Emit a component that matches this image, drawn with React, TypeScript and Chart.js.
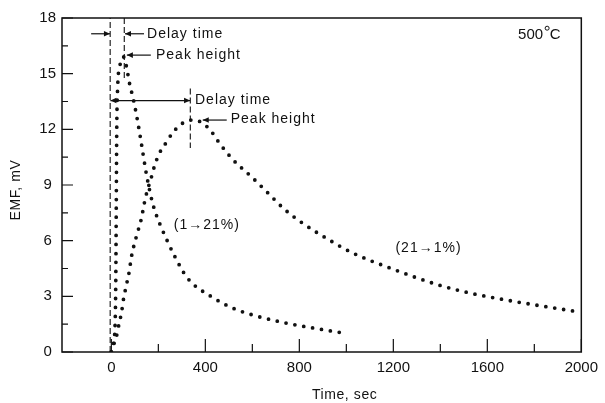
import React, { useEffect, useRef } from "react";
import { Chart, registerables } from "chart.js";

Chart.register(...registerables);

// ---- data ----
const curve1Time = [0, 10, 16, 19, 21, 23, 27, 36, 52, 64, 77, 94, 111, 127, 149, 174, 191, 213, 234, 268, 323, 430, 520, 600, 728, 855, 1000];
const curve1EMF = [0, 0.6, 1.5, 4, 8, 12, 14.3, 15.4, 15.9, 15.4, 14.5, 13.6, 12.5, 11.3, 9.6, 8.1, 7.4, 6.7, 6.1, 5.2, 4.0, 2.95, 2.35, 2.0, 1.6, 1.3, 1.0];

const curve2Time = [0, 10, 21, 34, 43, 51, 64, 77, 85, 106, 128, 140, 153, 170, 183, 204, 234, 260, 290, 320, 345, 380, 425, 446, 515, 600, 672, 736, 813, 919, 1025, 1170, 1396, 1536, 1681, 1821, 1970];
const curve2EMF = [0, 0.4, 0.8, 1.6, 2.1, 2.8, 3.6, 4.4, 5.1, 6.2, 7.2, 8.0, 8.7, 9.4, 10.0, 10.7, 11.3, 11.8, 12.2, 12.45, 12.5, 12.4, 11.9, 11.5, 10.4, 9.4, 8.5, 7.7, 6.95, 6.1, 5.35, 4.6, 3.6, 3.15, 2.8, 2.5, 2.2];

const xTicks = [0, 400, 800, 1200, 1600, 2000];
const xMinorTicks = [200, 600, 1000, 1400, 1800];
const yTicks = [0, 3, 6, 9, 12, 15, 18];
const yMinorTicks = [1.5, 4.5, 7.5, 10.5, 13.5, 16.5];

const xTitle = "Time, sec";
const yTitle = "EMF, mV";

// annotations (data coordinates)
const dashedLines = [
  { t: -5, from: 0, to: 18 },
  { t: 55, from: 18, to: 14.6 },
  { t: 336, from: 14.2, to: 11.0 },
];
const arrows = [
  { t1: -86, t2: -6, v: 17.15, both: false },
  { t1: 139, t2: 58, v: 17.15, both: false },
  { t1: 168, t2: 66, v: 16.0, both: false },
  { t1: -4, t2: 335, v: 13.55, both: true },
  { t1: 491, t2: 389, v: 12.5, both: false },
];
const textNotes = [
  { text: "Delay time", t: 152, v: 17.15 },
  { text: "Peak height", t: 190, v: 16.0 },
  { text: "Delay time", t: 356, v: 13.6 },
  { text: "Peak height", t: 508, v: 12.55 },
  { text: "(1→21%)", t: 266, v: 6.85 },
  { text: "(21→1%)", t: 1209, v: 5.6 },
];
const tempLabel = { main: "500", unit: "C", t: 1731, v: 17.1 };

const FONT = '"Liberation Sans", Arial, Helvetica, sans-serif';
const INK = "#111";

const overlay = {
  id: "overlay",
  afterDatasetsDraw(chart: any) {
    const { ctx, chartArea: a, scales } = chart;
    const x = scales.x;
    const y = scales.y;
    const px = (t: number) => x.getPixelForValue(t);
    const py = (v: number) => y.getPixelForValue(v);
    ctx.save();
    ctx.strokeStyle = INK;
    ctx.fillStyle = INK;
    // frame
    ctx.lineWidth = 1.5;
    ctx.setLineDash([]);
    ctx.strokeRect(a.left, a.top, a.right - a.left, a.bottom - a.top);
    // inward ticks
    ctx.lineWidth = 1.2;
    ctx.beginPath();
    xTicks.forEach((t) => {
      const X = px(t);
      ctx.moveTo(X, a.bottom);
      ctx.lineTo(X, a.bottom - 13);
    });
    xMinorTicks.forEach((t) => {
      const X = px(t);
      ctx.moveTo(X, a.bottom);
      ctx.lineTo(X, a.bottom - 8);
    });
    yTicks.forEach((v) => {
      const Y = py(v);
      ctx.moveTo(a.left, Y);
      ctx.lineTo(a.left + 11, Y);
    });
    yMinorTicks.forEach((v) => {
      const Y = py(v);
      ctx.moveTo(a.left, Y);
      ctx.lineTo(a.left + 6, Y);
    });
    ctx.stroke();
    // dashed lines
    ctx.lineWidth = 1.1;
    ctx.setLineDash([6, 3]);
    ctx.beginPath();
    dashedLines.forEach((d) => {
      ctx.moveTo(px(d.t), py(d.from));
      ctx.lineTo(px(d.t), py(d.to));
    });
    ctx.stroke();
    ctx.setLineDash([]);
    // arrows
    const head = (X: number, Y: number, dir: number) => {
      ctx.beginPath();
      ctx.moveTo(X, Y);
      ctx.lineTo(X - dir * 6, Y - 2.8);
      ctx.lineTo(X - dir * 6, Y + 2.8);
      ctx.closePath();
      ctx.fill();
    };
    ctx.lineWidth = 1.2;
    arrows.forEach((ar) => {
      const X1 = px(ar.t1);
      const X2 = px(ar.t2);
      const Y = py(ar.v);
      ctx.beginPath();
      ctx.moveTo(X1, Y);
      ctx.lineTo(X2, Y);
      ctx.stroke();
      const dir = X2 > X1 ? 1 : -1;
      head(X2, Y, dir);
      if (ar.both) head(X1, Y, -dir);
    });
    // texts
    ctx.textBaseline = "middle";
    ctx.textAlign = "left";
    ctx.font = `14px ${FONT}`;
    (ctx as any).letterSpacing = "1px";
    textNotes.forEach((n) => {
      ctx.fillText(n.text, px(n.t), py(n.v));
    });
    (ctx as any).letterSpacing = "0px";
    // temperature label
    ctx.font = `15px ${FONT}`;
    const tx = px(tempLabel.t);
    const ty = py(tempLabel.v);
    ctx.fillText(tempLabel.main, tx, ty);
    const w = ctx.measureText(tempLabel.main).width;
    ctx.lineWidth = 1;
    ctx.beginPath();
    ctx.arc(tx + w + 4, ty - 6.5, 2, 0, Math.PI * 2);
    ctx.stroke();
    ctx.fillText(tempLabel.unit, tx + w + 6.5, ty);
    // axis titles
    ctx.font = `14px ${FONT}`;
    (ctx as any).letterSpacing = "0.6px";
    ctx.textAlign = "center";
    ctx.fillText(xTitle, (a.left + a.right) / 2 + 23, 395);
    ctx.translate(16, 190);
    ctx.rotate(-Math.PI / 2);
    ctx.fillText(yTitle, 0, 0);
    ctx.restore();
  },
};

export default function App() {
  const ref = useRef<HTMLCanvasElement | null>(null);
  useEffect(() => {
    if (!ref.current) return;
    const dotted = {
      showLine: true,
      borderColor: INK,
      borderWidth: 3.8,
      borderDash: [0, 9],
      borderCapStyle: "round",
      cubicInterpolationMode: "monotone",
      pointRadius: 0,
      fill: false,
    };
    const chart = new Chart(ref.current, {
      type: "scatter",
      data: {
        datasets: [
          {
            label: "(1→21%)",
            data: curve1Time.map((t, i) => ({ x: t, y: curve1EMF[i] })),
            ...dotted,
          },
          {
            label: "(21→1%)",
            data: curve2Time.map((t, i) => ({ x: t, y: curve2EMF[i] })),
            ...dotted,
          },
        ],
      },
      options: {
        animation: false,
        responsive: false,
        devicePixelRatio: 1,
        layout: { padding: { top: 18, right: 21, left: 0, bottom: 0 } },
        plugins: { legend: { display: false }, tooltip: { enabled: false } },
        scales: {
          x: {
            type: "linear",
            min: -210,
            max: 2000,
            afterBuildTicks: (s: any) => {
              s.ticks = xTicks.map((v) => ({ value: v }));
            },
            afterFit: (s: any) => {
              s.height = 51;
            },
            grid: { display: false, drawTicks: false },
            border: { display: false },
            ticks: {
              color: INK,
              font: { family: FONT, size: 15 },
              padding: 7,
              maxRotation: 0,
              autoSkip: false,
              callback: (v: any) => String(v),
            },
          },
          y: {
            type: "linear",
            min: 0,
            max: 18,
            afterBuildTicks: (s: any) => {
              s.ticks = yTicks.map((v) => ({ value: v }));
            },
            afterFit: (s: any) => {
              s.width = 62;
            },
            grid: { display: false, drawTicks: false },
            border: { display: false },
            ticks: {
              color: INK,
              font: { family: FONT, size: 15 },
              padding: 6,
              crossAlign: "center",
              autoSkip: false,
              callback: (v: any) => String(v),
            },
          },
        },
      },
      plugins: [overlay],
    } as any);
    return () => chart.destroy();
  }, []);
  return (
    <div style={{ position: "fixed", left: 0, top: 0, width: 605, height: 403, background: "#fff" }}>
      <canvas ref={ref} width={605} height={403} />
    </div>
  );
}
